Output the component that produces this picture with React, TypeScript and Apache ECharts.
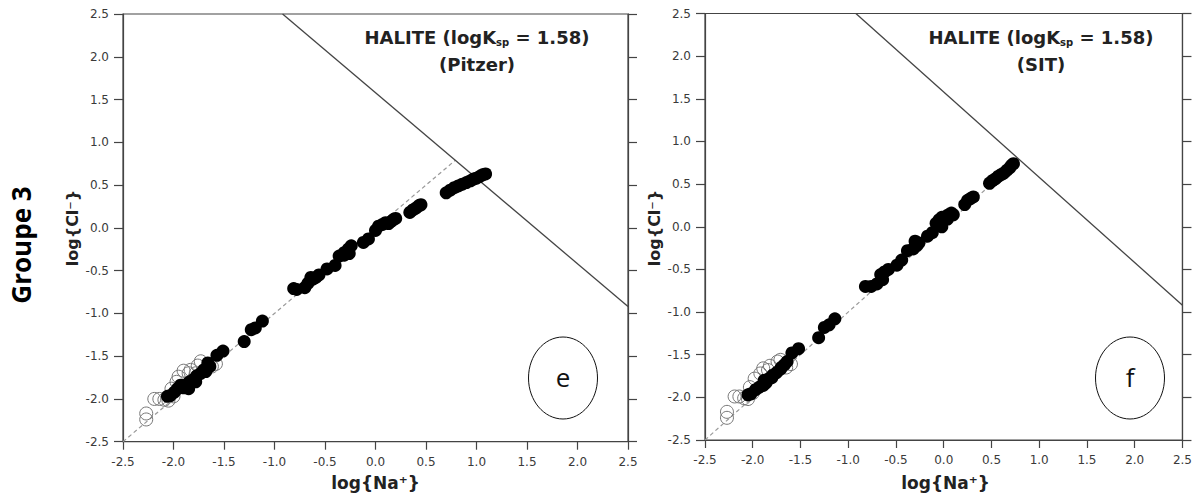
import React, { useEffect, useRef } from "react";
import * as echarts from "echarts";

// ---- data ----
const tickLabels = ["-2.5", "-2.0", "-1.5", "-1.0", "-0.5", "0.0", "0.5", "1.0", "1.5", "2.0", "2.5"];
const axisMin = -2.5;
const axisMax = 2.5;
const axisStep = 0.5;

const pitzerFilled = [
  [0.70, 0.41], [0.74, 0.44], [0.78, 0.47], [0.82, 0.49], [0.86, 0.51], [0.90, 0.53], [0.94, 0.55],
  [0.97, 0.57], [1.00, 0.58], [1.03, 0.60], [1.06, 0.62], [1.09, 0.63],
  [0.34, 0.18], [0.37, 0.21], [0.40, 0.23], [0.43, 0.26], [0.45, 0.27],
  [0.00, -0.03], [0.03, 0.02], [0.07, 0.04], [0.10, 0.06], [0.13, 0.05], [0.16, 0.08], [0.18, 0.10], [0.20, 0.11],
  [-0.12, -0.17], [-0.07, -0.13],
  [-0.36, -0.33], [-0.31, -0.29], [-0.27, -0.25], [-0.24, -0.21], [-0.26, -0.30], [-0.31, -0.32],
  [-0.40, -0.44], [-0.48, -0.48],
  [-0.56, -0.55], [-0.59, -0.58], [-0.62, -0.60], [-0.64, -0.58], [-0.67, -0.65], [-0.70, -0.70], [-0.81, -0.71], [-0.78, -0.72],
  [-1.12, -1.09], [-1.19, -1.17], [-1.23, -1.19],
  [-1.30, -1.33],
  [-1.51, -1.44], [-1.57, -1.49],
  [-1.64, -1.62], [-1.66, -1.58], [-1.70, -1.66], [-1.73, -1.70], [-1.77, -1.73], [-1.80, -1.77], [-1.84, -1.80],
  [-1.87, -1.83], [-1.90, -1.87], [-1.93, -1.84], [-1.96, -1.88], [-1.99, -1.92], [-2.03, -1.96], [-2.06, -1.97],
  [-1.85, -1.88], [-1.78, -1.80], [-1.68, -1.68],
];
const pitzerOpen = [
  [-2.27, -2.17], [-2.27, -2.24], [-2.19, -2.00], [-2.14, -2.00], [-2.09, -2.01], [-2.05, -2.02], [-2.02, -1.88],
  [-1.97, -1.80], [-1.95, -1.74], [-1.90, -1.67], [-1.85, -1.70], [-1.83, -1.66], [-1.78, -1.70], [-1.73, -1.56],
  [-1.76, -1.61], [-1.58, -1.59], [-1.62, -1.62], [-2.00, -1.97],
];
const sitFilled = [
  [0.48, 0.51], [0.51, 0.54], [0.54, 0.56], [0.57, 0.59], [0.60, 0.61], [0.63, 0.63], [0.66, 0.66], [0.69, 0.69],
  [0.71, 0.72], [0.73, 0.74],
  [0.22, 0.26], [0.25, 0.31], [0.28, 0.33], [0.31, 0.35],
  [-0.08, 0.04], [-0.05, 0.08], [-0.02, 0.11], [0.02, 0.12], [0.05, 0.14], [0.08, 0.16], [0.10, 0.14], [-0.02, 0.00], [0.04, 0.09],
  [-0.17, -0.11], [-0.12, -0.07],
  [-0.30, -0.17], [-0.28, -0.22], [-0.32, -0.26], [-0.38, -0.28], [-0.26, -0.19],
  [-0.44, -0.39], [-0.49, -0.45],
  [-0.58, -0.50], [-0.62, -0.53], [-0.66, -0.56], [-0.64, -0.62], [-0.70, -0.67], [-0.82, -0.70], [-0.76, -0.70],
  [-1.14, -1.08], [-1.20, -1.15], [-1.25, -1.18],
  [-1.31, -1.30],
  [-1.52, -1.43], [-1.59, -1.48],
  [-1.64, -1.58], [-1.67, -1.62], [-1.71, -1.67], [-1.75, -1.71], [-1.79, -1.74], [-1.83, -1.78], [-1.86, -1.83],
  [-1.89, -1.86], [-1.93, -1.88], [-1.97, -1.91], [-2.02, -1.96], [-2.05, -1.97], [-1.88, -1.80], [-1.80, -1.77], [-1.70, -1.65],
];
const sitOpen = [
  [-2.27, -2.17], [-2.27, -2.24], [-2.19, -1.99], [-2.14, -1.99], [-2.09, -2.01], [-2.05, -2.02], [-2.03, -1.88],
  [-1.98, -1.78], [-1.92, -1.72], [-1.89, -1.66], [-1.84, -1.68], [-1.82, -1.63], [-1.74, -1.58], [-1.71, -1.56],
  [-1.60, -1.61], [-1.65, -1.65], [-2.00, -1.95],
];
const haliteLine = [[-0.92, 2.5], [2.5, -0.92]];
const oneToOneLine = [[-2.5, -2.5], [0.79, 0.79]];
const panelModels = ["(Pitzer)", "(SIT)"];
const panelLetters = ["e", "f"];
const rowLabel = "Groupe 3";
const xTitle = "log{Na⁺}";
const yTitle = "log{Cl⁻}";

// ---- layout ----
const grids = [
  { left: 123, top: 14, width: 505, height: 427.7 },
  { left: 705, top: 13.5, width: 481, height: 426.5 },
];
const AX = "#444";

function axisBase(extra: any) {
  return {
    type: "value",
    min: axisMin,
    max: axisMax,
    interval: axisStep,
    axisLine: { show: true, onZero: false, lineStyle: { color: AX, width: 1.2 } },
    axisTick: { show: true, inside: false, length: 8, lineStyle: { color: AX, width: 1.2 } },
    axisLabel: {
      color: "#3a3a3a",
      fontSize: 12,
      fontFamily: "DejaVu Sans",
      margin: 14,
      formatter: (v: number) => tickLabels[Math.round((v - axisMin) / axisStep)] ?? "",
    },
    splitLine: { show: false },
    ...extra,
  };
}

export default function App() {
  const ref = useRef<HTMLDivElement>(null);
  useEffect(() => {
    if (!ref.current) return;
    const chart = echarts.init(ref.current, undefined, { renderer: "svg" });
    const panels = [
      { filled: pitzerFilled, open: pitzerOpen },
      { filled: sitFilled, open: sitOpen },
    ];
    const series: any[] = [];
    panels.forEach((p, i) => {
      const axes = { xAxisIndex: i, yAxisIndex: i * 2 };
      series.push({
        type: "line", ...axes, data: oneToOneLine, symbol: "none", silent: true, z: 1,
        lineStyle: { color: "#999", width: 1.2, type: [4, 3] },
      });
      series.push({
        type: "line", ...axes, data: haliteLine, symbol: "none", silent: true, z: 2,
        lineStyle: { color: "#444", width: 1.3 },
      });
      series.push({
        type: "scatter", ...axes, data: p.open, symbol: "circle", symbolSize: 13, z: 3,
        itemStyle: { color: "rgba(255,255,255,0)", borderColor: "#777", borderWidth: 1, opacity: 1 },
      });
      series.push({
        type: "scatter", ...axes, data: p.filled, symbol: "circle", symbolSize: 13, z: 4,
        itemStyle: { color: "#000", opacity: 1 },
      });
    });

    const titleCx = [477, 1041];
    const graphics: any[] = [];
    panelModels.forEach((m, i) => {
      const g = grids[i];
      graphics.push({
        type: "text", x: titleCx[i], y: 37,
        style: {
          text: "{b|HALITE (logK}{s|sp}{b| = 1.58)}",
          align: "center", verticalAlign: "middle",
          rich: {
            b: { fontFamily: "DejaVu Sans", fontWeight: "bold", fontSize: 18, fill: "#222" },
            s: { fontFamily: "DejaVu Sans", fontWeight: "bold", fontSize: 10, fill: "#222", padding: [11, 0, 0, 0] },
          },
        },
      });
      graphics.push({
        type: "text", x: titleCx[i], y: 64,
        style: { text: m, align: "center", verticalAlign: "middle", fontFamily: "DejaVu Sans", fontWeight: "bold", fontSize: 18, fill: "#222" },
      });
      const ex = [563, 1130][i];
      graphics.push({
        type: "ellipse", shape: { cx: ex, cy: 378, rx: 34.5, ry: 41 },
        style: { fill: "none", stroke: "#111", lineWidth: 1 },
      });
      graphics.push({
        type: "text", x: ex, y: 377,
        style: { text: panelLetters[i], align: "center", verticalAlign: "middle", fontFamily: "Open Sans", fontSize: 26, fill: "#111" },
      });
      graphics.push({
        type: "text", x: g.left + g.width / 2, y: 483,
        style: { text: xTitle, align: "center", verticalAlign: "middle", fontFamily: "DejaVu Sans", fontWeight: "bold", fontSize: 17, fill: "#222" },
      });
      graphics.push({
        type: "text", x: g.left - 51, y: 228, rotation: Math.PI / 2,
        style: { text: yTitle, align: "center", verticalAlign: "middle", fontFamily: "DejaVu Sans", fontWeight: "bold", fontSize: 16, fill: "#222" },
      });
    });
    graphics.push({
      type: "text", x: 21, y: 245, rotation: Math.PI / 2,
      style: { text: rowLabel, align: "center", verticalAlign: "middle", fontFamily: "Open Sans", fontWeight: "bold", fontSize: 26, fill: "#000" },
    });

    chart.setOption({
      animation: false,
      backgroundColor: "#fff",
      grid: grids.map((g) => ({ ...g, show: true, borderColor: AX, borderWidth: 1.2, backgroundColor: "transparent" })),
      xAxis: grids.map((_, i) => axisBase({ gridIndex: i, position: "bottom" })),
      yAxis: [
        axisBase({ gridIndex: 0, position: "left", axisTick: { show: true, length: 9, lineStyle: { color: AX, width: 1.2 } } }),
        axisBase({ gridIndex: 0, position: "right", axisLabel: { show: false }, axisTick: { show: true, length: 9, lineStyle: { color: AX, width: 1.2 } } }),
        axisBase({ gridIndex: 1, position: "left", axisTick: { show: true, length: 9, lineStyle: { color: AX, width: 1.2 } } }),
        axisBase({ gridIndex: 1, position: "right", axisLabel: { show: false }, axisTick: { show: true, length: 9, lineStyle: { color: AX, width: 1.2 } } }),
      ],
      series,
      graphic: graphics,
    });
    return () => chart.dispose();
  }, []);
  return <div ref={ref} style={{ position: "absolute", left: 0, top: 0, width: 1195, height: 495 }} />;
}
